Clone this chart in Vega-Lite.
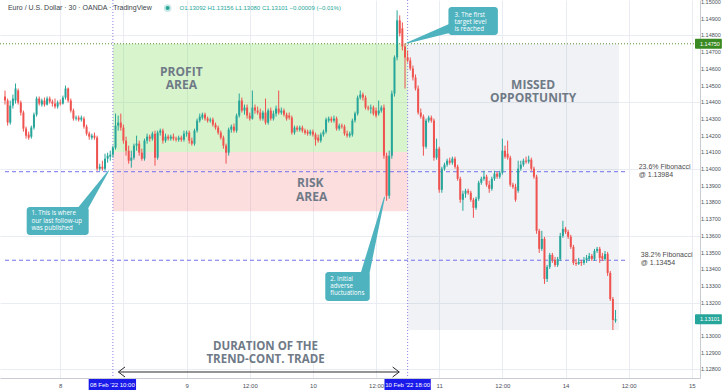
{
"$schema":"https://vega.github.io/schema/vega-lite/v6.json",
"width":700,"height":378,"padding":{"left":0,"top":0,"right":28,"bottom":13},"autosize":{"type":"none"},
"background":"#ffffff",
"config":{"view":{"stroke":null},"font":"Liberation Sans","axis":{"title":null}},
"datasets":{
"candles":[
{"x":0,"o":1.14434,"h":1.14470,"l":1.14386,"c":1.14410},
{"x":1,"o":1.14410,"h":1.14422,"l":1.14260,"c":1.14278},
{"x":2,"o":1.14278,"h":1.14410,"l":1.14266,"c":1.14380},
{"x":3,"o":1.14380,"h":1.14446,"l":1.14362,"c":1.14422},
{"x":4,"o":1.14410,"h":1.14512,"l":1.14392,"c":1.14482},
{"x":5,"o":1.14470,"h":1.14482,"l":1.14386,"c":1.14398},
{"x":6,"o":1.14398,"h":1.14410,"l":1.14320,"c":1.14338},
{"x":7,"o":1.14338,"h":1.14350,"l":1.14224,"c":1.14242},
{"x":8,"o":1.14242,"h":1.14254,"l":1.14182,"c":1.14200},
{"x":9,"o":1.14206,"h":1.14224,"l":1.14176,"c":1.14188},
{"x":10,"o":1.14194,"h":1.14260,"l":1.14182,"c":1.14248},
{"x":11,"o":1.14248,"h":1.14338,"l":1.14236,"c":1.14326},
{"x":12,"o":1.14326,"h":1.14434,"l":1.14314,"c":1.14422},
{"x":13,"o":1.14422,"h":1.14434,"l":1.14380,"c":1.14392},
{"x":14,"o":1.14386,"h":1.14422,"l":1.14374,"c":1.14410},
{"x":15,"o":1.14410,"h":1.14428,"l":1.14374,"c":1.14386},
{"x":16,"o":1.14386,"h":1.14434,"l":1.14380,"c":1.14422},
{"x":17,"o":1.14422,"h":1.14434,"l":1.14392,"c":1.14404},
{"x":18,"o":1.14404,"h":1.14416,"l":1.14374,"c":1.14392},
{"x":19,"o":1.14392,"h":1.14422,"l":1.14362,"c":1.14374},
{"x":20,"o":1.14374,"h":1.14410,"l":1.14362,"c":1.14398},
{"x":21,"o":1.14398,"h":1.14416,"l":1.14380,"c":1.14392},
{"x":22,"o":1.14392,"h":1.14440,"l":1.14386,"c":1.14428},
{"x":23,"o":1.14428,"h":1.14500,"l":1.14416,"c":1.14482},
{"x":24,"o":1.14482,"h":1.14488,"l":1.14398,"c":1.14410},
{"x":25,"o":1.14410,"h":1.14422,"l":1.14338,"c":1.14350},
{"x":26,"o":1.14350,"h":1.14362,"l":1.14290,"c":1.14302},
{"x":27,"o":1.14302,"h":1.14320,"l":1.14290,"c":1.14308},
{"x":28,"o":1.14308,"h":1.14320,"l":1.14284,"c":1.14296},
{"x":29,"o":1.14296,"h":1.14320,"l":1.14284,"c":1.14308},
{"x":30,"o":1.14302,"h":1.14314,"l":1.14242,"c":1.14254},
{"x":31,"o":1.14254,"h":1.14266,"l":1.14200,"c":1.14212},
{"x":32,"o":1.14212,"h":1.14224,"l":1.14176,"c":1.14194},
{"x":33,"o":1.14188,"h":1.14212,"l":1.14176,"c":1.14200},
{"x":34,"o":1.14200,"h":1.14218,"l":1.14176,"c":1.14188},
{"x":35,"o":1.14188,"h":1.14200,"l":1.13990,"c":1.14002},
{"x":36,"o":1.14002,"h":1.14032,"l":1.13990,"c":1.14014},
{"x":37,"o":1.14014,"h":1.14050,"l":1.13990,"c":1.14002},
{"x":38,"o":1.14002,"h":1.14092,"l":1.13990,"c":1.14062},
{"x":39,"o":1.14062,"h":1.14098,"l":1.14038,"c":1.14080},
{"x":40,"o":1.14074,"h":1.14110,"l":1.14050,"c":1.14086},
{"x":41,"o":1.14086,"h":1.14140,"l":1.14068,"c":1.14128},
{"x":42,"o":1.14128,"h":1.14332,"l":1.14116,"c":1.14260},
{"x":43,"o":1.14260,"h":1.14320,"l":1.14230,"c":1.14278},
{"x":44,"o":1.14278,"h":1.14332,"l":1.14230,"c":1.14248},
{"x":45,"o":1.14248,"h":1.14266,"l":1.14152,"c":1.14170},
{"x":46,"o":1.14170,"h":1.14194,"l":1.14080,"c":1.14110},
{"x":47,"o":1.14110,"h":1.14140,"l":1.14032,"c":1.14050},
{"x":48,"o":1.14050,"h":1.14110,"l":1.14008,"c":1.14068},
{"x":49,"o":1.14068,"h":1.14152,"l":1.14056,"c":1.14140},
{"x":50,"o":1.14140,"h":1.14200,"l":1.14110,"c":1.14152},
{"x":51,"o":1.14152,"h":1.14170,"l":1.14080,"c":1.14098},
{"x":52,"o":1.14098,"h":1.14122,"l":1.14050,"c":1.14062},
{"x":53,"o":1.14062,"h":1.14182,"l":1.14050,"c":1.14170},
{"x":54,"o":1.14170,"h":1.14212,"l":1.14152,"c":1.14194},
{"x":55,"o":1.14194,"h":1.14206,"l":1.14164,"c":1.14182},
{"x":56,"o":1.14182,"h":1.14224,"l":1.14170,"c":1.14212},
{"x":57,"o":1.14212,"h":1.14230,"l":1.14020,"c":1.14068},
{"x":58,"o":1.14068,"h":1.14230,"l":1.14056,"c":1.14218},
{"x":59,"o":1.14218,"h":1.14242,"l":1.14200,"c":1.14230},
{"x":60,"o":1.14230,"h":1.14242,"l":1.14152,"c":1.14170},
{"x":61,"o":1.14170,"h":1.14212,"l":1.14158,"c":1.14194},
{"x":62,"o":1.14194,"h":1.14206,"l":1.14170,"c":1.14182},
{"x":63,"o":1.14182,"h":1.14206,"l":1.14170,"c":1.14194},
{"x":64,"o":1.14194,"h":1.14212,"l":1.14170,"c":1.14182},
{"x":65,"o":1.14182,"h":1.14194,"l":1.14164,"c":1.14176},
{"x":66,"o":1.14176,"h":1.14200,"l":1.14164,"c":1.14188},
{"x":67,"o":1.14188,"h":1.14200,"l":1.14164,"c":1.14176},
{"x":68,"o":1.14176,"h":1.14230,"l":1.14164,"c":1.14212},
{"x":69,"o":1.14212,"h":1.14230,"l":1.14194,"c":1.14218},
{"x":70,"o":1.14218,"h":1.14230,"l":1.14152,"c":1.14170},
{"x":71,"o":1.14170,"h":1.14188,"l":1.14140,"c":1.14152},
{"x":72,"o":1.14152,"h":1.14242,"l":1.14140,"c":1.14230},
{"x":73,"o":1.14230,"h":1.14302,"l":1.14218,"c":1.14290},
{"x":74,"o":1.14290,"h":1.14332,"l":1.14278,"c":1.14314},
{"x":75,"o":1.14308,"h":1.14338,"l":1.14296,"c":1.14326},
{"x":76,"o":1.14326,"h":1.14338,"l":1.14290,"c":1.14302},
{"x":77,"o":1.14302,"h":1.14314,"l":1.14278,"c":1.14290},
{"x":78,"o":1.14290,"h":1.14308,"l":1.14278,"c":1.14296},
{"x":79,"o":1.14296,"h":1.14308,"l":1.14254,"c":1.14266},
{"x":80,"o":1.14266,"h":1.14278,"l":1.14236,"c":1.14248},
{"x":81,"o":1.14248,"h":1.14260,"l":1.14206,"c":1.14218},
{"x":82,"o":1.14218,"h":1.14230,"l":1.14176,"c":1.14188},
{"x":83,"o":1.14188,"h":1.14200,"l":1.14122,"c":1.14140},
{"x":84,"o":1.14140,"h":1.14152,"l":1.14032,"c":1.14098},
{"x":85,"o":1.14098,"h":1.14248,"l":1.14080,"c":1.14236},
{"x":86,"o":1.14236,"h":1.14266,"l":1.14218,"c":1.14254},
{"x":87,"o":1.14254,"h":1.14272,"l":1.14218,"c":1.14230},
{"x":88,"o":1.14230,"h":1.14332,"l":1.14218,"c":1.14320},
{"x":89,"o":1.14320,"h":1.14452,"l":1.14308,"c":1.14410},
{"x":90,"o":1.14410,"h":1.14428,"l":1.14338,"c":1.14350},
{"x":91,"o":1.14350,"h":1.14386,"l":1.14326,"c":1.14368},
{"x":92,"o":1.14368,"h":1.14386,"l":1.14302,"c":1.14320},
{"x":93,"o":1.14320,"h":1.14338,"l":1.14290,"c":1.14302},
{"x":94,"o":1.14302,"h":1.14470,"l":1.14296,"c":1.14368},
{"x":95,"o":1.14368,"h":1.14386,"l":1.14332,"c":1.14350},
{"x":96,"o":1.14350,"h":1.14374,"l":1.14326,"c":1.14338},
{"x":97,"o":1.14338,"h":1.14362,"l":1.14290,"c":1.14302},
{"x":98,"o":1.14302,"h":1.14350,"l":1.14290,"c":1.14338},
{"x":99,"o":1.14338,"h":1.14422,"l":1.14266,"c":1.14278},
{"x":100,"o":1.14278,"h":1.14362,"l":1.14266,"c":1.14350},
{"x":101,"o":1.14350,"h":1.14368,"l":1.14290,"c":1.14302},
{"x":102,"o":1.14302,"h":1.14350,"l":1.14290,"c":1.14332},
{"x":103,"o":1.14332,"h":1.14380,"l":1.14314,"c":1.14362},
{"x":104,"o":1.14362,"h":1.14470,"l":1.14326,"c":1.14338},
{"x":105,"o":1.14338,"h":1.14368,"l":1.14326,"c":1.14350},
{"x":106,"o":1.14350,"h":1.14362,"l":1.14314,"c":1.14326},
{"x":107,"o":1.14326,"h":1.14338,"l":1.14290,"c":1.14302},
{"x":108,"o":1.14320,"h":1.14338,"l":1.14296,"c":1.14308},
{"x":109,"o":1.14308,"h":1.14320,"l":1.14206,"c":1.14218},
{"x":110,"o":1.14218,"h":1.14260,"l":1.14206,"c":1.14248},
{"x":111,"o":1.14248,"h":1.14260,"l":1.14224,"c":1.14236},
{"x":112,"o":1.14236,"h":1.14260,"l":1.14224,"c":1.14248},
{"x":113,"o":1.14248,"h":1.14260,"l":1.14218,"c":1.14230},
{"x":114,"o":1.14230,"h":1.14242,"l":1.14206,"c":1.14218},
{"x":115,"o":1.14224,"h":1.14236,"l":1.14200,"c":1.14212},
{"x":116,"o":1.14212,"h":1.14236,"l":1.14200,"c":1.14224},
{"x":117,"o":1.14224,"h":1.14236,"l":1.14194,"c":1.14206},
{"x":118,"o":1.14206,"h":1.14218,"l":1.14140,"c":1.14176},
{"x":119,"o":1.14188,"h":1.14206,"l":1.14158,"c":1.14170},
{"x":120,"o":1.14170,"h":1.14218,"l":1.14158,"c":1.14206},
{"x":121,"o":1.14206,"h":1.14236,"l":1.14194,"c":1.14224},
{"x":122,"o":1.14224,"h":1.14308,"l":1.14212,"c":1.14296},
{"x":123,"o":1.14290,"h":1.14314,"l":1.14278,"c":1.14302},
{"x":124,"o":1.14302,"h":1.14314,"l":1.14278,"c":1.14290},
{"x":125,"o":1.14290,"h":1.14320,"l":1.14278,"c":1.14302},
{"x":126,"o":1.14302,"h":1.14314,"l":1.14230,"c":1.14242},
{"x":127,"o":1.14242,"h":1.14272,"l":1.14230,"c":1.14260},
{"x":128,"o":1.14260,"h":1.14272,"l":1.14242,"c":1.14254},
{"x":129,"o":1.14254,"h":1.14266,"l":1.14200,"c":1.14212},
{"x":130,"o":1.14212,"h":1.14230,"l":1.14188,"c":1.14200},
{"x":131,"o":1.14200,"h":1.14224,"l":1.14188,"c":1.14212},
{"x":132,"o":1.14206,"h":1.14302,"l":1.14194,"c":1.14290},
{"x":133,"o":1.14290,"h":1.14344,"l":1.14278,"c":1.14332},
{"x":134,"o":1.14332,"h":1.14440,"l":1.14320,"c":1.14428},
{"x":135,"o":1.14428,"h":1.14470,"l":1.14416,"c":1.14446},
{"x":136,"o":1.14446,"h":1.14458,"l":1.14410,"c":1.14428},
{"x":137,"o":1.14428,"h":1.14440,"l":1.14356,"c":1.14368},
{"x":138,"o":1.14368,"h":1.14380,"l":1.14350,"c":1.14362},
{"x":139,"o":1.14362,"h":1.14386,"l":1.14332,"c":1.14368},
{"x":140,"o":1.14368,"h":1.14380,"l":1.14320,"c":1.14332},
{"x":141,"o":1.14350,"h":1.14368,"l":1.14308,"c":1.14320},
{"x":142,"o":1.14332,"h":1.14410,"l":1.14320,"c":1.14350},
{"x":143,"o":1.14350,"h":1.14380,"l":1.14338,"c":1.14368},
{"x":144,"o":1.14368,"h":1.14386,"l":1.14062,"c":1.14080},
{"x":145,"o":1.14080,"h":1.14098,"l":1.13810,"c":1.13840},
{"x":146,"o":1.13840,"h":1.14110,"l":1.13822,"c":1.14080},
{"x":147,"o":1.14080,"h":1.14470,"l":1.14062,"c":1.14452},
{"x":148,"o":1.14452,"h":1.14680,"l":1.14434,"c":1.14668},
{"x":149,"o":1.14668,"h":1.14950,"l":1.14650,"c":1.14890},
{"x":150,"o":1.14890,"h":1.14920,"l":1.14794,"c":1.14812},
{"x":151,"o":1.14842,"h":1.14878,"l":1.14710,"c":1.14734},
{"x":152,"o":1.14734,"h":1.14752,"l":1.14482,"c":1.14668},
{"x":153,"o":1.14668,"h":1.14710,"l":1.14638,"c":1.14650},
{"x":154,"o":1.14650,"h":1.14668,"l":1.14590,"c":1.14602},
{"x":155,"o":1.14602,"h":1.14620,"l":1.14530,"c":1.14548},
{"x":156,"o":1.14548,"h":1.14566,"l":1.14470,"c":1.14482},
{"x":157,"o":1.14482,"h":1.14500,"l":1.14326,"c":1.14338},
{"x":158,"o":1.14338,"h":1.14362,"l":1.14302,"c":1.14314},
{"x":159,"o":1.14314,"h":1.14326,"l":1.14080,"c":1.14134},
{"x":160,"o":1.14134,"h":1.14302,"l":1.14122,"c":1.14290},
{"x":161,"o":1.14290,"h":1.14320,"l":1.14278,"c":1.14308},
{"x":162,"o":1.14308,"h":1.14320,"l":1.14278,"c":1.14290},
{"x":163,"o":1.14290,"h":1.14302,"l":1.14050,"c":1.14068},
{"x":164,"o":1.14068,"h":1.14182,"l":1.14056,"c":1.14122},
{"x":165,"o":1.14122,"h":1.14134,"l":1.13858,"c":1.13876},
{"x":166,"o":1.13876,"h":1.14014,"l":1.13858,"c":1.14002},
{"x":167,"o":1.14002,"h":1.14038,"l":1.13990,"c":1.14026},
{"x":168,"o":1.14026,"h":1.14062,"l":1.14014,"c":1.14050},
{"x":169,"o":1.14050,"h":1.14068,"l":1.14026,"c":1.14038},
{"x":170,"o":1.14038,"h":1.14074,"l":1.14026,"c":1.14062},
{"x":171,"o":1.14062,"h":1.14074,"l":1.14002,"c":1.14014},
{"x":172,"o":1.14014,"h":1.14026,"l":1.13930,"c":1.13942},
{"x":173,"o":1.13942,"h":1.13954,"l":1.13798,"c":1.13816},
{"x":174,"o":1.13816,"h":1.13870,"l":1.13750,"c":1.13852},
{"x":175,"o":1.13852,"h":1.13882,"l":1.13828,"c":1.13870},
{"x":176,"o":1.13870,"h":1.13882,"l":1.13846,"c":1.13858},
{"x":177,"o":1.13858,"h":1.13870,"l":1.13804,"c":1.13816},
{"x":178,"o":1.13816,"h":1.13828,"l":1.13708,"c":1.13768},
{"x":179,"o":1.13768,"h":1.13834,"l":1.13756,"c":1.13822},
{"x":180,"o":1.13822,"h":1.13930,"l":1.13810,"c":1.13918},
{"x":181,"o":1.13918,"h":1.13954,"l":1.13906,"c":1.13942},
{"x":182,"o":1.13942,"h":1.13990,"l":1.13930,"c":1.13954},
{"x":183,"o":1.13954,"h":1.13966,"l":1.13894,"c":1.13906},
{"x":184,"o":1.13906,"h":1.13930,"l":1.13858,"c":1.13882},
{"x":185,"o":1.13882,"h":1.13954,"l":1.13870,"c":1.13942},
{"x":186,"o":1.13942,"h":1.13990,"l":1.13930,"c":1.13972},
{"x":187,"o":1.13972,"h":1.13984,"l":1.13942,"c":1.13954},
{"x":188,"o":1.13954,"h":1.13990,"l":1.13942,"c":1.13978},
{"x":189,"o":1.13978,"h":1.14182,"l":1.13966,"c":1.14110},
{"x":190,"o":1.14110,"h":1.14140,"l":1.14062,"c":1.14074},
{"x":191,"o":1.14092,"h":1.14170,"l":1.14056,"c":1.14068},
{"x":192,"o":1.14068,"h":1.14080,"l":1.13894,"c":1.13906},
{"x":193,"o":1.13906,"h":1.13918,"l":1.13882,"c":1.13894},
{"x":194,"o":1.13894,"h":1.13912,"l":1.13804,"c":1.13816},
{"x":195,"o":1.13870,"h":1.14050,"l":1.13858,"c":1.14002},
{"x":196,"o":1.14002,"h":1.14050,"l":1.13990,"c":1.14026},
{"x":197,"o":1.14026,"h":1.14062,"l":1.14014,"c":1.14050},
{"x":198,"o":1.14050,"h":1.14074,"l":1.14032,"c":1.14044},
{"x":199,"o":1.14044,"h":1.14080,"l":1.14032,"c":1.14056},
{"x":200,"o":1.14056,"h":1.14068,"l":1.13990,"c":1.14002},
{"x":201,"o":1.14002,"h":1.14014,"l":1.13942,"c":1.13954},
{"x":202,"o":1.13954,"h":1.13966,"l":1.13612,"c":1.13630},
{"x":203,"o":1.13630,"h":1.13642,"l":1.13498,"c":1.13522},
{"x":204,"o":1.13522,"h":1.13630,"l":1.13510,"c":1.13582},
{"x":205,"o":1.13582,"h":1.13594,"l":1.13312,"c":1.13342},
{"x":206,"o":1.13342,"h":1.13426,"l":1.13324,"c":1.13414},
{"x":207,"o":1.13414,"h":1.13498,"l":1.13402,"c":1.13486},
{"x":208,"o":1.13486,"h":1.13498,"l":1.13438,"c":1.13456},
{"x":209,"o":1.13456,"h":1.13474,"l":1.13414,"c":1.13426},
{"x":210,"o":1.13426,"h":1.13474,"l":1.13414,"c":1.13462},
{"x":211,"o":1.13462,"h":1.13618,"l":1.13450,"c":1.13600},
{"x":212,"o":1.13600,"h":1.13690,"l":1.13588,"c":1.13642},
{"x":213,"o":1.13642,"h":1.13654,"l":1.13612,"c":1.13624},
{"x":214,"o":1.13624,"h":1.13636,"l":1.13582,"c":1.13594},
{"x":215,"o":1.13594,"h":1.13606,"l":1.13522,"c":1.13534},
{"x":216,"o":1.13534,"h":1.13546,"l":1.13426,"c":1.13438},
{"x":217,"o":1.13438,"h":1.13462,"l":1.13420,"c":1.13432},
{"x":218,"o":1.13432,"h":1.13468,"l":1.13426,"c":1.13444},
{"x":219,"o":1.13444,"h":1.13456,"l":1.13420,"c":1.13438},
{"x":220,"o":1.13438,"h":1.13474,"l":1.13426,"c":1.13456},
{"x":221,"o":1.13456,"h":1.13486,"l":1.13438,"c":1.13468},
{"x":222,"o":1.13462,"h":1.13498,"l":1.13450,"c":1.13480},
{"x":223,"o":1.13480,"h":1.13492,"l":1.13450,"c":1.13462},
{"x":224,"o":1.13462,"h":1.13522,"l":1.13450,"c":1.13510},
{"x":225,"o":1.13510,"h":1.13534,"l":1.13498,"c":1.13522},
{"x":226,"o":1.13522,"h":1.13534,"l":1.13438,"c":1.13468},
{"x":227,"o":1.13480,"h":1.13498,"l":1.13450,"c":1.13462},
{"x":228,"o":1.13462,"h":1.13510,"l":1.13450,"c":1.13492},
{"x":229,"o":1.13492,"h":1.13504,"l":1.13360,"c":1.13378},
{"x":230,"o":1.13378,"h":1.13390,"l":1.13210,"c":1.13222},
{"x":231,"o":1.13222,"h":1.13234,"l":1.13036,"c":1.13096},
{"x":232,"o":1.13092,"h":1.13156,"l":1.13080,"c":1.13101}
],
"zones":[
{"z":"profit","x":41,"x2":153,"y":1.1475,"y2":1.14102},
{"z":"risk","x":41,"x2":153,"y":1.14102,"y2":1.13748},
{"z":"missed","x":153,"x2":233.3,"y":1.1475,"y2":1.13036}
],
"priceTicks":[{"p":1.128},{"p":1.129},{"p":1.13},{"p":1.131},{"p":1.132},{"p":1.133},{"p":1.134},{"p":1.135},{"p":1.136},{"p":1.137},{"p":1.138},{"p":1.139},{"p":1.14},{"p":1.141},{"p":1.142},{"p":1.143},{"p":1.144},{"p":1.145},{"p":1.146},{"p":1.147},{"p":1.148},{"p":1.149},{"p":1.15}],
"bigLabels":[
{"x":67,"y":1.14581,"t":"PROFIT"},
{"x":67,"y":1.14503,"t":"AREA"},
{"x":116,"y":1.13916,"t":"RISK"},
{"x":116.5,"y":1.13833,"t":"AREA"},
{"x":200.7,"y":1.14503,"t":"MISSED"},
{"x":200.7,"y":1.14425,"t":"OPPORTUNITY"}
],
"durLabels":[
{"x":99,"y":1.12933,"t":"DURATION OF THE"},
{"x":99,"y":1.12857,"t":"TREND-CONT. TRADE"}
],
"arrow":[
{"g":"s","k":0,"x":43.1,"y":1.12785},{"g":"s","k":1,"x":149.8,"y":1.12785},
{"g":"l","k":0,"x":45.6,"y":1.12815},{"g":"l","k":1,"x":43.1,"y":1.12785},{"g":"l","k":2,"x":45.6,"y":1.12755},
{"g":"r","k":0,"x":147.3,"y":1.12815},{"g":"r","k":1,"x":149.8,"y":1.12785},{"g":"r","k":2,"x":147.3,"y":1.12755}
],
"pointers":[
{"g":"p1","k":0,"x":29.5,"y":1.13761},{"g":"p1","k":1,"x":39.3,"y":1.13988},
{"g":"p2","k":0,"x":136.5,"y":1.13354},{"g":"p2","k":1,"x":144.2,"y":1.13832},
{"g":"p3","k":0,"x":169.5,"y":1.14844},{"g":"p3","k":1,"x":152.8,"y":1.14754}
],
"boxes":[
{"x":8.24,"x2":31.8,"y":1.13773,"y2":1.13605},
{"x":121.7,"x2":138.6,"y":1.13384,"y2":1.1321},
{"x":168.5,"x2":187.3,"y":1.1497,"y2":1.14802}
],
"boxText":[
{"x":10.1,"y":1.13737,"t":"1. This is where"},
{"x":10.1,"y":1.13689,"t":"our last follow-up"},
{"x":10.1,"y":1.13647,"t":"was published"},
{"x":123.6,"y":1.13342,"t":"2. Initial"},
{"x":123.6,"y":1.133,"t":"adverse"},
{"x":123.6,"y":1.13258,"t":"fluctuations"},
{"x":170.8,"y":1.14922,"t":"3. The first"},
{"x":170.8,"y":1.1488,"t":"target level"},
{"x":170.8,"y":1.14838,"t":"is reached"}
],
"fibText":[
{"x":240.8,"y":1.1401,"t":"23.6% Fibonacci"},
{"x":240.8,"y":1.13962,"t":"@ 1.13984"},
{"x":241.6,"y":1.13485,"t":"38.2% Fibonacci"},
{"x":241.6,"y":1.13437,"t":"@ 1.13454"}
],
"tags":[
{"t":"1.14750","x":262.2,"x2":272.4,"y":1.1478,"y2":1.1472,"m":1.1475},
{"t":"1.13101","x":262.2,"x2":272.4,"y":1.13131,"y2":1.13071,"m":1.13101}
],
"dates":[
{"t":"08 Feb '22   10:00","x":31.8,"x2":49.8,"xm":40.8,"y":1.12743,"y2":1.12677,"m":1.1271},
{"t":"10 Feb '22   18:00","x":144.2,"x2":161.8,"xm":153,"y":1.12743,"y2":1.12677,"m":1.1271}
]
},
"layer":[
{"data":{"name":"zones"},"mark":{"type":"rect"},
 "encoding":{
  "x":{"field":"x","type":"quantitative","scale":{"domain":[0,262.2],"nice":false,"zero":false},
   "axis":{"title":null,"orient":"bottom","values":[21,45,69,93,117,141,165,189,213,237,261],
    "labelExpr":"datum.value==21?'8':datum.value==69?'9':datum.value==117?'10':datum.value==165?'11':datum.value==213?'14':datum.value==261?'15':datum.value==45?'':'12:00'",
    "grid":true,"gridColor":"#e9ecf2","ticks":false,"domainColor":"#c9ccd3","labelFontSize":6,"labelColor":"#4b4f5a","labelPadding":4,"labelFlush":false,"labelOverlap":false}},
  "x2":{"field":"x2"},
  "y":{"field":"y","type":"quantitative","scale":{"domain":[1.12749,1.15012],"nice":false,"zero":false},
   "axis":{"title":null,"orient":"right","values":[1.128,1.129,1.13,1.131,1.132,1.133,1.134,1.135,1.136,1.137,1.138,1.139,1.14,1.141,1.142,1.143,1.144,1.145,1.146,1.147,1.148,1.149,1.15],
    "labels":false,"grid":true,"gridColor":"#e9ecf2","ticks":false,"domainColor":"#c9ccd3"}},
  "y2":{"field":"y2"},
  "color":{"field":"z","type":"nominal","legend":null,"scale":{"domain":["profit","risk","missed"],"range":["rgba(126,217,87,0.3)","rgba(247,124,128,0.25)","rgba(122,127,160,0.1)"]}}
 }},
{"data":{"name":"priceTicks"},"mark":{"type":"text","fontSize":5.5,"color":"#4b4f5a","align":"left","baseline":"middle","dx":6},
 "encoding":{"x":{"datum":262.2,"type":"quantitative"},"y":{"field":"p","type":"quantitative","axis":{"orient":"right"}},"text":{"field":"p","type":"quantitative","format":".5f"}}},
{"data":{"values":[{"x":41},{"x":153}]},"mark":{"type":"rule","color":"#8b7fe8","strokeDash":[1,2],"strokeWidth":1},
 "encoding":{"x":{"field":"x","type":"quantitative"}}},
{"data":{"values":[{"x":0,"x2":236,"y":1.13984},{"x":0,"x2":236,"y":1.13454}]},"mark":{"type":"rule","color":"#7272ee","strokeDash":[4,3],"strokeWidth":1},
 "encoding":{"x":{"field":"x","type":"quantitative"},"x2":{"field":"x2"},"y":{"field":"y","type":"quantitative","axis":{"orient":"right"}}}},
{"data":{"values":[{"y":1.1475}]},"mark":{"type":"rule","color":"#5a8f35","strokeDash":[1,2],"strokeWidth":1},
 "encoding":{"y":{"field":"y","type":"quantitative","axis":{"orient":"right"}}}},
{"data":{"name":"candles"},"mark":{"type":"rule","strokeWidth":1},
 "encoding":{"x":{"field":"x","type":"quantitative"},"y":{"field":"l","type":"quantitative","axis":{"orient":"right"}},"y2":{"field":"h"},
  "color":{"condition":{"test":"datum.c >= datum.o","value":"#26a69a"},"value":"#ef5350"}}},
{"data":{"name":"candles"},"mark":{"type":"bar","size":2},
 "encoding":{"x":{"field":"x","type":"quantitative"},"y":{"field":"o","type":"quantitative","axis":{"orient":"right"}},"y2":{"field":"c"},
  "color":{"condition":{"test":"datum.c >= datum.o","value":"#26a69a"},"value":"#ef5350"}}},
{"data":{"name":"bigLabels"},"mark":{"type":"text","font":"Open Sans","fontWeight":"bold","fontSize":12,"color":"#6f7a87","align":"center","baseline":"middle"},
 "encoding":{"x":{"field":"x","type":"quantitative"},"y":{"field":"y","type":"quantitative","axis":{"orient":"right"}},"text":{"field":"t"}}},
{"data":{"name":"durLabels"},"mark":{"type":"text","font":"Open Sans","fontWeight":"bold","fontSize":11.5,"color":"#6f7a87","align":"center","baseline":"middle"},
 "encoding":{"x":{"field":"x","type":"quantitative"},"y":{"field":"y","type":"quantitative","axis":{"orient":"right"}},"text":{"field":"t"}}},
{"data":{"name":"arrow"},"mark":{"type":"line","color":"#2b2b2b","strokeWidth":1},
 "encoding":{"x":{"field":"x","type":"quantitative"},"y":{"field":"y","type":"quantitative","axis":{"orient":"right"}},"detail":{"field":"g"},"order":{"field":"k"}}},
{"data":{"name":"pointers"},"mark":{"type":"trail","color":"#4fb3bf"},
 "encoding":{"x":{"field":"x","type":"quantitative"},"y":{"field":"y","type":"quantitative","axis":{"orient":"right"}},"detail":{"field":"g"},"order":{"field":"k"},
  "size":{"field":"k","type":"quantitative","legend":null,"scale":{"domain":[0,1],"range":[9,1]}}}},
{"data":{"name":"boxes"},"mark":{"type":"rect","color":"#4fb3bf","cornerRadius":3},
 "encoding":{"x":{"field":"x","type":"quantitative"},"x2":{"field":"x2"},"y":{"field":"y","type":"quantitative","axis":{"orient":"right"}},"y2":{"field":"y2"}}},
{"data":{"name":"boxText"},"mark":{"type":"text","font":"Open Sans","fontSize":6.2,"color":"#ffffff","align":"left","baseline":"middle"},
 "encoding":{"x":{"field":"x","type":"quantitative"},"y":{"field":"y","type":"quantitative","axis":{"orient":"right"}},"text":{"field":"t"}}},
{"data":{"name":"fibText"},"mark":{"type":"text","fontSize":7,"color":"#4a4a4a","align":"left","baseline":"middle"},
 "encoding":{"x":{"field":"x","type":"quantitative"},"y":{"field":"y","type":"quantitative","axis":{"orient":"right"}},"text":{"field":"t"}}},
{"data":{"values":[{"x":1.1,"y":1.14964,"t":"Euro / U.S. Dollar · 30 · OANDA · TradingView"}]},"mark":{"type":"text","fontSize":7,"color":"#3b3f4a","align":"left","baseline":"middle"},
 "encoding":{"x":{"field":"x","type":"quantitative"},"y":{"field":"y","type":"quantitative","axis":{"orient":"right"}},"text":{"field":"t"}}},
{"data":{"values":[{"x":66.3,"y":1.14964,"t":"O1.13092 H1.13156 L1.13080 C1.13101 −0.00009 (−0.01%)"}]},"mark":{"type":"text","fontSize":6,"color":"#26a69a","align":"left","baseline":"middle"},
 "encoding":{"x":{"field":"x","type":"quantitative"},"y":{"field":"y","type":"quantitative","axis":{"orient":"right"}},"text":{"field":"t"}}},
{"data":{"values":[{"x":61.8,"y":1.14964}]},"mark":{"type":"point","filled":true,"color":"#26a69a","size":60,"opacity":0.25},
 "encoding":{"x":{"field":"x","type":"quantitative"},"y":{"field":"y","type":"quantitative","axis":{"orient":"right"}}}},
{"data":{"values":[{"x":61.8,"y":1.14964}]},"mark":{"type":"point","filled":true,"color":"#26a69a","size":16,"opacity":1},
 "encoding":{"x":{"field":"x","type":"quantitative"},"y":{"field":"y","type":"quantitative","axis":{"orient":"right"}}}},
{"data":{"name":"tags"},"mark":{"type":"rect","cornerRadius":1},
 "encoding":{"x":{"field":"x","type":"quantitative"},"x2":{"field":"x2"},"y":{"field":"y","type":"quantitative","axis":{"orient":"right"}},"y2":{"field":"y2"},
  "color":{"condition":{"test":"datum.t == '1.14750'","value":"#3a8a23"},"value":"#26a69a"}}},
{"data":{"name":"tags"},"mark":{"type":"text","fontSize":5.5,"color":"#ffffff","align":"left","baseline":"middle","dx":5},
 "encoding":{"x":{"field":"x","type":"quantitative"},"y":{"field":"m","type":"quantitative","axis":{"orient":"right"}},"text":{"field":"t"}}},
{"data":{"name":"dates"},"mark":{"type":"rect","color":"#1a1aeb"},
 "encoding":{"x":{"field":"x","type":"quantitative"},"x2":{"field":"x2"},"y":{"field":"y","type":"quantitative","axis":{"orient":"right"}},"y2":{"field":"y2"}}},
{"data":{"name":"dates"},"mark":{"type":"text","fontSize":6,"color":"#ffffff","align":"center","baseline":"middle"},
 "encoding":{"x":{"field":"xm","type":"quantitative"},"y":{"field":"m","type":"quantitative","axis":{"orient":"right"}},"text":{"field":"t"}}}
]
}
